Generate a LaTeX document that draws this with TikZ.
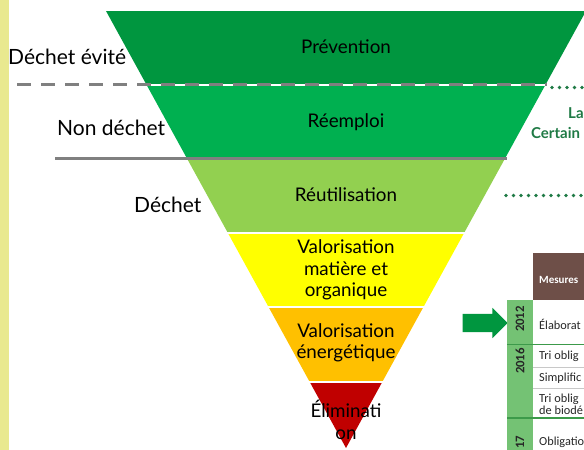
\documentclass[tikz,border=0pt]{standalone}
\usepackage{fontspec}
\setmainfont{Lato}
\newfontfamily\tabfont{Carlito}
\usetikzlibrary{shapes.arrows}
\definecolor{cPrev}{HTML}{00963F}
\definecolor{cReem}{HTML}{00B050}
\definecolor{cReut}{HTML}{92D050}
\definecolor{cValM}{HTML}{FFFF00}
\definecolor{cValE}{HTML}{FFC000}
\definecolor{cElim}{HTML}{C00000}
\definecolor{cBar}{HTML}{E9E98F}
\definecolor{cGrayLine}{HTML}{808080}
\definecolor{cDot}{HTML}{1F7A45}
\definecolor{cBrown}{HTML}{6E4F48}
\definecolor{cYear}{HTML}{74C274}
\definecolor{cYearLine}{HTML}{3C9A4A}
\definecolor{cCellLine}{HTML}{C8C8C8}
\tikzset{
  bandtext/.style={font=\fontsize{18.8}{21.5}\selectfont, align=center, inner sep=0pt, text=black},
  sidetext/.style={font=\fontsize{21}{24}\selectfont, inner sep=0pt, anchor=west, text=black},
  greentext/.style={font=\fontsize{15}{17}\selectfont\bfseries, inner sep=0pt, anchor=west, text=cDot},
  celltext/.style={font=\tabfont\fontsize{12.3}{11.5}\selectfont, inner sep=0pt, anchor=west, align=left, text=black!85},
  yeartext/.style={font=\tabfont\bfseries\fontsize{12.8}{14}\selectfont, inner sep=0pt, rotate=90, text=black!85},
  dotline/.style={cDot, line width=3.6pt, line cap=round, dash pattern=on 0pt off 7.5pt},
}
\begin{document}
\begin{tikzpicture}[x=1pt,y=-1pt]
\useasboundingbox (0,0) rectangle (584,450);
\begin{scope}
\clip (0,0) rectangle (584,450);
% left bar
\fill[cBar] (0,0) rectangle (9,450);
% funnel bands
\begin{scope}
\clip (106,11) -- (586,11) -- (346,448) -- cycle;
\fill[cPrev] (0,11) rectangle (600,83.5);
\fill[cReem] (0,85.5) rectangle (600,157);
\fill[cReut] (0,159.5) rectangle (600,231.5);
\fill[cValM] (0,233.5) rectangle (600,305.5);
\fill[cValE] (0,307.5) rectangle (600,380.5);
\fill[cElim] (0,382.5) rectangle (600,460);
\end{scope}
% separator lines
\coordinate (d1) at (17,84.5);
\coordinate (d2) at (547,84.5);
\draw[cGrayLine, line width=3pt, dash pattern=on 14pt off 10pt] (d1) -- (d2);
\coordinate (s1) at (55,158);
\coordinate (s2) at (507,158);
\draw[cGrayLine, line width=3pt] (s1) -- (s2);
% band labels
\node[bandtext] (prev) at (346,47) {Prévention};
\node[bandtext] (reem) at (346,122) {Réemploi};
\node[bandtext] (reut) at (346,195) {Réutilisation};
\node[bandtext] (valm) at (346,270) {Valorisation\\matière et\\organique};
\node[bandtext] (vale) at (346,343) {Valorisation\\énergétique};
\node[bandtext] (elim) at (346,420) {Éliminati\\on};
% side labels
\node[sidetext] (dev) at (8,57) {Déchet évité};
\node[sidetext] (ndech) at (57,128) {Non déchet};
\node[sidetext] (dech) at (134,205) {Déchet};
% right dotted lines & text
\coordinate (p1) at (552,87.5);
\coordinate (p2) at (590,87.5);
\draw[dotline] (p1) -- (p2);
\coordinate (q1) at (506,195.5);
\coordinate (q2) at (590,195.5);
\draw[dotline] (q1) -- (q2);
\node[greentext] (la) at (568,113) {La};
\node[greentext] (cert) at (531,133) {Certain};
% arrow
\node[single arrow, fill=cPrev, minimum height=45pt, text height=18pt, text depth=0pt, text width=0pt, single arrow head extend=6pt, single arrow tip angle=90, inner sep=0pt] (arr) at (480.5,323) {};
% table
\fill[cBrown] (533,253) rectangle (590,300);
\node[font=\tabfont\bfseries\fontsize{11}{12}\selectfont, text=white, anchor=west, inner sep=0pt] (mes) at (539,280) {Mesures};
\fill[cYear] (507,300) rectangle (533,460);
\draw[cCellLine, line width=1pt] (533,367) -- (590,367);
\draw[cCellLine, line width=1pt] (533,388.5) -- (590,388.5);
\draw[cYearLine, line width=1.2pt] (507,344.5) -- (590,344.5);
\draw[cYearLine, line width=1.2pt] (507,418) -- (590,418);
\node[yeartext] (y12) at (520,319) {2012};
\node[yeartext] (y16) at (520,361) {2016};
\node[yeartext] (y17) at (520,442) {17};
\node[celltext] (c1) at (539,324) {Élaborat};
\node[celltext] (c2) at (539,356) {Tri oblig};
\node[celltext] (c3) at (539,378) {Simplific};
\node[celltext] (c4) at (539,404.5) {Tri oblig\\de biodé};
\node[celltext] (c5) at (539,442) {Obligatio};
\end{scope}
\end{tikzpicture}
\end{document}
